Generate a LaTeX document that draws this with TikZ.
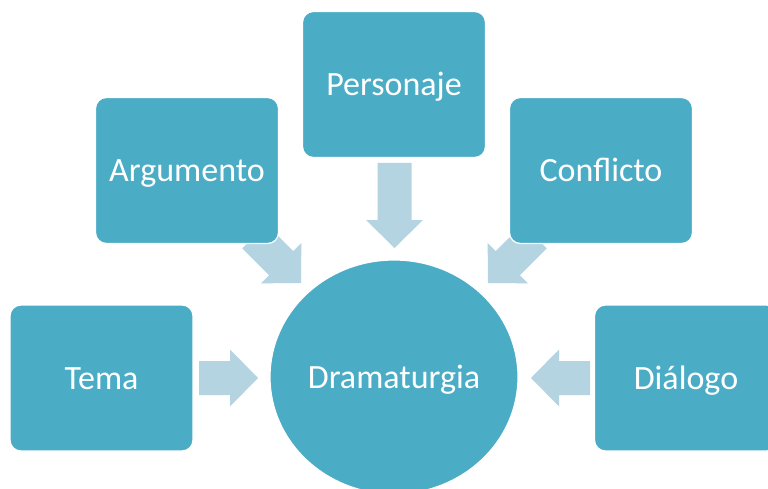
\documentclass[tikz,border=0pt]{standalone}
\usepackage{fontspec}
\setmainfont{Carlito}
\usetikzlibrary{shapes.geometric}
\definecolor{boxfill}{HTML}{4BACC6}
\definecolor{arrowfill}{HTML}{B4D4E1}
\newcommand\blockarrow[3]{%
  \fill[arrowfill, shift={(#1)}, rotate=#2] (0,0) -- (-28,28.5) -- (-28,17) -- (-#3,17) -- (-#3,-17) -- (-28,-17) -- (-28,-28.5) -- cycle;}
\begin{document}
\begin{tikzpicture}[x=1pt,y=-1pt,
  item/.style={rounded corners=11pt, fill=boxfill, draw=white, line width=1.2pt,
    minimum width=183pt, minimum height=146pt, inner sep=0pt, text=white,
    font=\fontsize{34}{40}\selectfont, text height=22pt, text depth=0pt},
  hub/.style={ellipse, fill=boxfill, draw=white, line width=1.2pt,
    minimum width=248pt, minimum height=234pt, inner sep=0pt, text=white,
    font=\fontsize{34}{40}\selectfont, text height=22pt, text depth=0pt}]
\useasboundingbox (0,0) rectangle (768,489);
\clip (0,0) rectangle (768,489);
\fill[white] (0,0) rectangle (768,489);
% arrow tips
\coordinate (tTema) at (258,378);
\coordinate (tArg) at (301,283);
\coordinate (tPer) at (394.5,248);
\coordinate (tCon) at (488,283);
\coordinate (tDia) at (531,378);
\blockarrow{tTema}{0}{59}
\blockarrow{tArg}{-45}{66}
\blockarrow{tPer}{-90}{85}
\blockarrow{tCon}{-135}{66}
\blockarrow{tDia}{180}{59}
% boxes
\node[item] (tema) at (101.5,378) {Tema};
\node[item] (arg) at (187,170.5) {Argumento};
\node[item] (per) at (394,84.5) {Personaje};
\node[item] (con) at (601,170.5) {Conflicto};
\node[item] (dia) at (686,378) {Diálogo};
\node[hub] (dra) at (394,377) {Dramaturgia};
\end{tikzpicture}
\end{document}
